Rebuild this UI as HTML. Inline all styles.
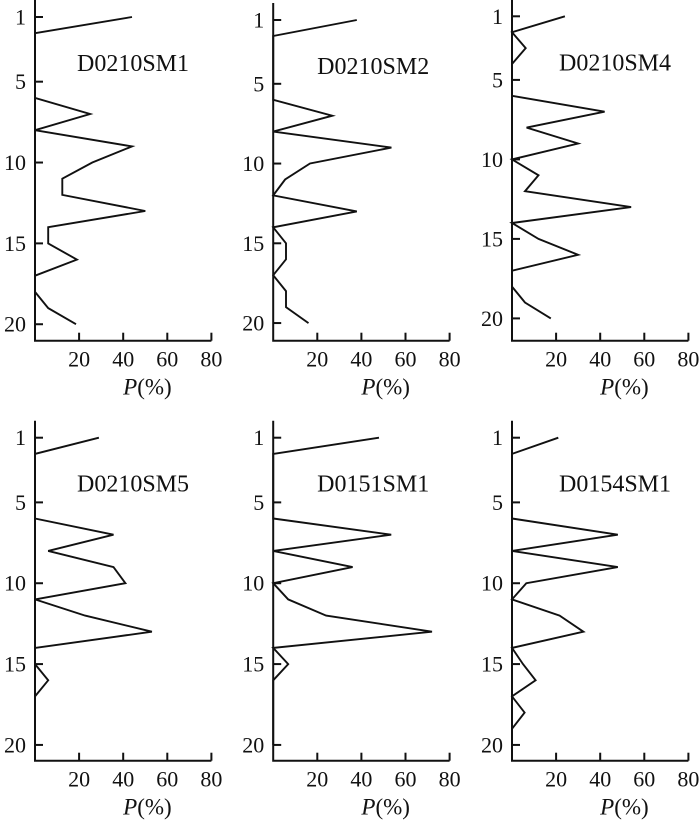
<!DOCTYPE html>
<html><head><meta charset="utf-8"><style>
html,body{margin:0;padding:0;background:#fff;}
svg{display:block;}
svg text{font-family:"Liberation Serif","DejaVu Serif",serif;}
</style></head><body>
<svg id="chart" width="700" height="822" viewBox="0 0 700 822" xmlns="http://www.w3.org/2000/svg" font-family="Liberation Serif, DejaVu Serif, serif"></svg>
<script>
// Data (depth levels 1..20, P(%) values)
const depths = [1,2,3,4,5,6,7,8,9,10,11,12,13,14,15,16,17,18,19,20];
const xTicks = [20,40,60,80];
const yTicks = [1,5,10,15,20];
const panelNames = ["D0210SM1","D0210SM2","D0210SM4","D0210SM5","D0151SM1","D0154SM1"];
const sm1_0210 = [44,0,0,0,0,0,25,0,44,26,12.4,12.4,50,6,6,19,0,0,6,18.6];
const sm2_0210 = [37.9,0,0,0,0,0,26.8,0,53.6,16.7,5.4,0,37.9,0,5.8,5.8,0,5.8,5.8,16];
const sm4_0210 = [24,0,6.2,0,0,0,42,6.6,30,0,12,5.9,54,0,12,30,0,0,5.9,17.6];
const sm5_0210 = [29,0,0,0,0,0,35.6,6,35.6,41,0,22.7,53,0,0,6,0,null,null,null];
const sm1_0151 = [48,0,0,0,0,0,53.5,0,36,0,6.8,24,72,0,6.8,0,0,0,0,0];
const sm1_0154 = [21,0,0,0,0,0,48,0,48,6.5,0,21.6,32.4,0,5,10.7,0,5.7,0,0];
const seriesList = [sm1_0210, sm2_0210, sm4_0210, sm5_0210, sm1_0151, sm1_0154];

// Layout (pixel geometry, not data)
const layout = [
  {x0:35, y1:17, yStep:16.17, base:340.7, tx:98},
  {x0:273.2, y1:20, yStep:15.95, base:340.7, tx:100},
  {x0:512, y1:16.3, yStep:15.9, base:340.7, tx:103},
  {x0:35, y1:437.7, yStep:16.17, base:760.7, tx:98},
  {x0:273.2, y1:437.7, yStep:16.17, base:760.7, tx:100},
  {x0:512, y1:437.7, yStep:16.17, base:760.7, tx:103}
];
const xScale = 2.205;
const FONT = "Liberation Serif, DejaVu Serif, serif";

const NS = "http://www.w3.org/2000/svg";
const svg = document.getElementById("chart");
function mk(tag, attrs, parent){
  const e = document.createElementNS(NS, tag);
  for (const k in attrs) e.setAttribute(k, attrs[k]);
  (parent||svg).appendChild(e);
  return e;
}

seriesList.forEach((vals, i) => {
  const L = layout[i];
  const xf = v => L.x0 + v * xScale;
  const yf = d => L.y1 + (d - 1) * L.yStep;
  const g = mk("g", {});
  
  

  const top = yf(1) - 17;
  const right = xf(80);
  const ax = mk("path", {d:`M${L.x0},${top} L${L.x0},${L.base} L${right},${L.base}`, fill:"none", stroke:"#111", "stroke-width":2}, g);
  
  

  yTicks.forEach(t => {
    const y = yf(t);
    const tk = mk("line", {x1:L.x0, x2:L.x0+8, y1:y, y2:y, stroke:"#111", "stroke-width":2}, g);
    
    
    const tl = mk("text", {x:L.x0-9, y:y+7.5, "text-anchor":"end", "font-size":22, "font-family":FONT, fill:"#111"}, g);
    tl.textContent = t;
    
    
  });
  xTicks.forEach(t => {
    const x = xf(t);
    const tk = mk("line", {x1:x, x2:x, y1:L.base, y2:L.base-8, stroke:"#111", "stroke-width":2}, g);
    
    
    const tl = mk("text", {x:x, y:L.base+26, "text-anchor":"middle", "font-size":22, "font-family":FONT, fill:"#111"}, g);
    tl.textContent = t;
    
    
  });

  const xt = mk("text", {x:xf(51), y:L.base+54, "text-anchor":"middle", "font-size":23, "font-family":FONT, fill:"#111"}, g);
  xt.innerHTML = '<tspan font-style="italic">P</tspan>(%)';
  
  

  const title = mk("text", {x:L.x0+L.tx, y:yf(1)+54, "text-anchor":"middle", "font-size":24, "font-family":FONT, fill:"#111"}, g);
  title.textContent = panelNames[i];
  
  

  let d = "", pen = false;
  vals.forEach((v, k) => {
    if (v === null) { pen = false; return; }
    d += (pen ? " L" : " M") + xf(v).toFixed(1) + "," + yf(depths[k]).toFixed(1);
    pen = true;
  });
  const line = mk("path", {d:d, fill:"none", stroke:"#111", "stroke-width":1.9, "stroke-linejoin":"miter"}, g);
  
  
});
</script>
</body></html>
